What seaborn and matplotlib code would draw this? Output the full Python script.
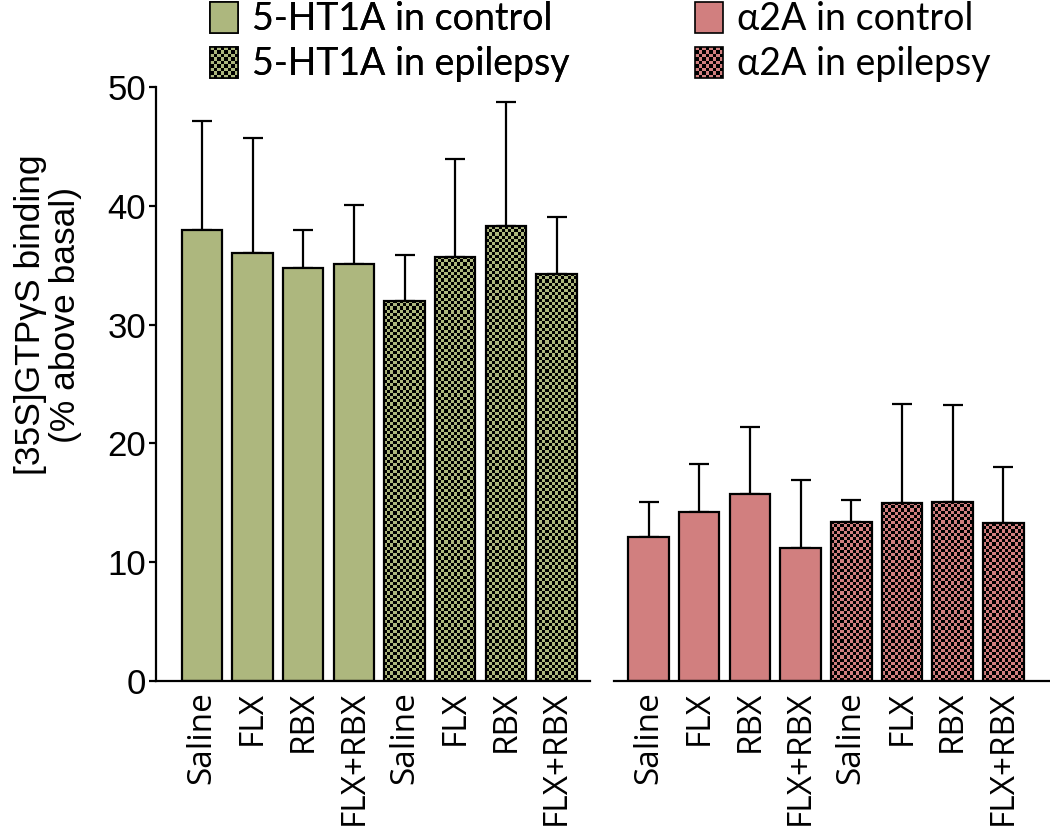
import numpy as np
import pandas as pd
import seaborn as sns
import matplotlib.pyplot as plt
from matplotlib.patches import Rectangle, Patch
from matplotlib.legend_handler import HandlerBase

# values (mean and upper SEM)
treatments = ["Saline", "FLX", "RBX", "FLX+RBX"]
ht1a_control = [38.0, 36.0, 34.8, 35.1]
ht1a_control_err = [9.1, 9.7, 3.2, 5.0]
ht1a_epilepsy = [32.0, 35.7, 38.3, 34.3]
ht1a_epilepsy_err = [3.9, 8.2, 10.4, 4.8]
a2a_control = [12.1, 14.2, 15.7, 11.2]
a2a_control_err = [3.0, 4.1, 5.7, 5.7]
a2a_epilepsy = [13.4, 15.0, 15.1, 13.3]
a2a_epilepsy_err = [1.8, 8.3, 8.1, 4.7]

green = "#ADB77E"
pink = "#D17F7F"

sns.set_style("ticks")
plt.rcParams["font.family"] = ["Liberation Sans", "DejaVu Sans"]
for k in ["text.color", "axes.labelcolor", "xtick.color", "ytick.color", "axes.edgecolor"]:
    plt.rcParams[k] = "black"


def make_frame(control, control_err, epilepsy, epilepsy_err):
    rows = []
    for t, v, e in zip(treatments, control, control_err):
        rows.append({"key": t + " (control)", "value": v, "err": e, "cond": "control"})
    for t, v, e in zip(treatments, epilepsy, epilepsy_err):
        rows.append({"key": t + " (epilepsy)", "value": v, "err": e, "cond": "epilepsy"})
    return pd.DataFrame(rows)


def checker(color, nrows, ncols):
    rgb = np.array(plt.matplotlib.colors.to_rgb(color))
    img = np.zeros((nrows, ncols, 3))
    mask = (np.add.outer(np.arange(nrows), np.arange(ncols)) % 2) == 0
    img[mask] = rgb
    return img


class CheckerHandler(HandlerBase):
    def __init__(self, color):
        super().__init__()
        self.color = color

    def create_artists(self, legend, orig_handle, xdescent, ydescent, width, height, fontsize, trans):
        x0, y0 = -xdescent, -ydescent
        cell = 2.6
        nx = int(round(width / cell))
        ny = int(round(height / cell))
        cw, ch = width / nx, height / ny
        arts = [Rectangle((x0, y0), width, height, facecolor=self.color, edgecolor="none", transform=trans)]
        for i in range(nx):
            for j in range(ny):
                if (i + j) % 2:
                    arts.append(Rectangle((x0 + i * cw, y0 + j * ch), cw, ch, facecolor="black",
                                          edgecolor="none", transform=trans))
        arts.append(Rectangle((x0, y0), width, height, facecolor="none", edgecolor="black", lw=1.2, transform=trans))
        return arts


def panel(ax, df, color, xlim):
    order = list(df["key"])
    sns.barplot(data=df, x="key", y="value", hue="cond", order=order, dodge=False,
                palette={"control": color, "epilepsy": color}, width=0.8, saturation=1,
                edgecolor="black", linewidth=1.6, errorbar=None, legend=False, ax=ax)
    ax.errorbar(np.arange(len(df)), df["value"], yerr=[np.zeros(len(df)), df["err"]], fmt="none",
                ecolor="black", elinewidth=1.6, capsize=7, capthick=1.6, zorder=0.5)
    px_x = 50.7
    px_y = 11.88
    for p in list(ax.patches):
        idx = int(round(p.get_x() + p.get_width() / 2))
        if idx < 4:
            continue
        x0, y0, w, h = p.get_x(), p.get_y(), p.get_width(), p.get_height()
        ncols = max(1, int(round(w * px_x / 3.2)))
        nrows = max(1, int(round(h * px_y / 3.2)))
        im = ax.imshow(checker(color, nrows, ncols), extent=(x0, x0 + w, y0, y0 + h),
                       aspect="auto", interpolation="nearest", zorder=0.9, origin="lower")
        im.set_clip_path(p)
        p.set_facecolor("none")
        p.set_zorder(1)
    ax.set_xlim(*xlim)
    ax.set_ylim(0, 50)
    ax.set_xticks(range(len(df)))
    ax.set_xticklabels(treatments * 2, rotation=90, fontsize=24, family=["Open Sans", "DejaVu Sans"])
    ax.tick_params(axis="x", length=0, pad=7)
    ax.set_xlabel("")
    ax.set_ylabel("")
    for s in ax.spines.values():
        s.set_linewidth(1.6)
    sns.despine(ax=ax)


fig = plt.figure(figsize=(10.5, 8.32), dpi=100)
ax1 = fig.add_axes([0.1483, 0.1815, 0.4136, 0.7139])
ax2 = fig.add_axes([0.5848, 0.1815, 0.4152, 0.7139])

panel(ax1, make_frame(ht1a_control, ht1a_control_err, ht1a_epilepsy, ht1a_epilepsy_err), green, (-0.91, 7.66))
panel(ax2, make_frame(a2a_control, a2a_control_err, a2a_epilepsy, a2a_epilepsy_err), pink, (-0.68, 7.92))

ax1.set_yticks([0, 10, 20, 30, 40, 50])
ax1.tick_params(axis="y", labelsize=25, length=5, width=1.6, pad=2)
ax1.set_ylabel("[35S]GTP\u03b3S binding\n(% above basal)", fontsize=25.5, linespacing=1.1,
               ha="center", va="center")
ax1.yaxis.set_label_coords(-0.248, 0.616)

ax2.spines["left"].set_visible(False)
ax2.tick_params(axis="y", left=False, labelleft=False)

legend_font = {"family": ["Lato", "DejaVu Sans"], "size": 27}
h_ctrl_g = Patch(facecolor=green, edgecolor="black", lw=1.2)
h_epi_g = Patch(facecolor=green)
h_ctrl_p = Patch(facecolor=pink, edgecolor="black", lw=1.2)
h_epi_p = Patch(facecolor=pink)

leg1 = fig.legend([h_ctrl_g, h_epi_g], ["5-HT1A in control", "5-HT1A in epilepsy"],
                  loc="upper left", bbox_to_anchor=(210 / 1050, 1 - 1 / 832), frameon=False,
                  prop=legend_font, handlelength=0.75, handleheight=0.9, handletextpad=0.37,
                  labelspacing=0.25, borderpad=0, borderaxespad=0,
                  handler_map={h_epi_g: CheckerHandler(green)})
leg2 = fig.legend([h_ctrl_p, h_epi_p], ["\u03b12A in control", "\u03b12A in epilepsy"],
                  loc="upper left", bbox_to_anchor=(695 / 1050, 1 - 1 / 832), frameon=False,
                  prop=legend_font, handlelength=0.75, handleheight=0.9, handletextpad=0.37,
                  labelspacing=0.25, borderpad=0, borderaxespad=0,
                  handler_map={h_epi_p: CheckerHandler(pink)})
fig.add_artist(leg1)

fig.savefig("out.png", dpi=100)
